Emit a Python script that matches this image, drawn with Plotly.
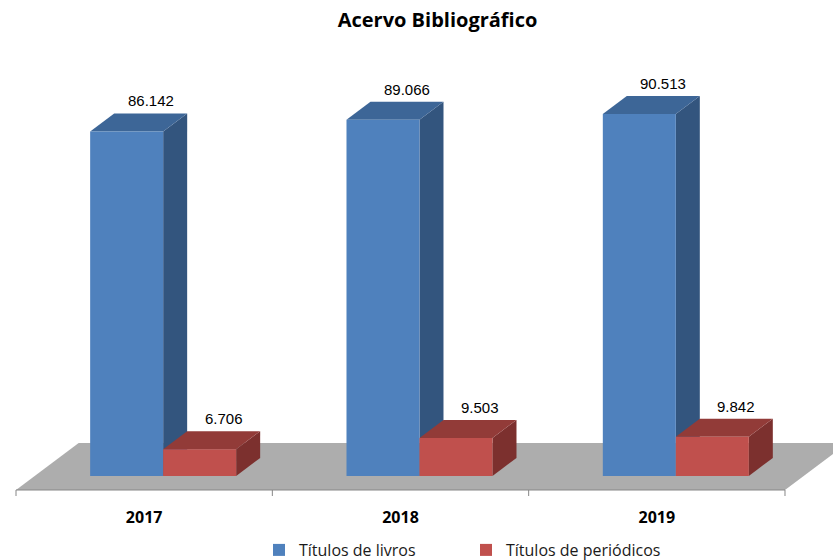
import plotly.graph_objects as go

# ---------------- data ----------------
categories = ["2017", "2018", "2019"]
livros = [86142, 89066, 90513]
periodicos = [6706, 9503, 9842]
series_names = ["Títulos de livros", "Títulos de periódicos"]
title_text = "Acervo Bibliográfico"

# ---------------- styling / geometry ----------------
W, H = 833, 560
MT, MB = 40, 60
PLOT_H = H - MT - MB
X0, X1 = -0.5624, 2.6873
Y0, Y1 = -6000, 109000
UX = (X1 - X0) / W          # x units per pixel
UY = (Y1 - Y0) / PLOT_H     # y units per pixel

BAR_W = 73 * UX
BLUE_OFF = -54 * UX
RED_OFF = BLUE_OFF + BAR_W
DX, DY = 24 * UX, 18 * UY   # depth offset of the 3D boxes

BLUE = dict(front="#4F81BD", top="#3D6697", side="#33557E")
RED = dict(front="#C0504D", top="#923B38", side="#7C302E")
FLOOR = "#ADADAD"
AXIS = "#868686"

FONT_NUM = "Liberation Sans, Arial, sans-serif"
FONT_TXT = "Open Sans, sans-serif"


def fmt(v):
    return f"{v:,}".replace(",", ".")


def poly(pts, color):
    d = "M " + " L ".join(f"{x},{y}" for x, y in pts) + " Z"
    return dict(type="path", path=d, xref="x", yref="y", fillcolor=color,
                line=dict(width=0), layer="below")


shapes = []
# floor
floor_y = -14 * UY
fdx, fdy = 47 * 4 / 3 * UX, 47 * UY
xa, xb = -0.5, len(categories) - 0.5
shapes.append(poly([(xa, floor_y), (xb, floor_y), (xb + fdx, floor_y + fdy),
                    (xa + fdx, floor_y + fdy)], FLOOR))


def box_faces(xc, off, v, pal):
    xl = xc + off
    xr = xl + BAR_W
    side = poly([(xr, 0), (xr + DX, DY), (xr + DX, v + DY), (xr, v)], pal["side"])
    top = poly([(xl, v), (xl + DX, v + DY), (xr + DX, v + DY), (xr, v)], pal["top"])
    return [side, top]


annotations = []
for i in range(len(categories)):
    shapes += box_faces(i, BLUE_OFF, livros[i], BLUE)
    shapes += box_faces(i, RED_OFF, periodicos[i], RED)
    for off, v in ((BLUE_OFF, livros[i]), (RED_OFF, periodicos[i])):
        annotations.append(dict(x=i + off + DX + BAR_W / 2, y=v + DY, text=fmt(v),
                                showarrow=False, yanchor="bottom", yshift=2,
                                font=dict(family=FONT_NUM, size=15, color="#000000")))

# axis line and ticks along the floor's front edge
shapes.append(dict(type="line", xref="x", yref="y", x0=xa, x1=xb, y0=floor_y, y1=floor_y,
                   line=dict(color=AXIS, width=1), layer="below"))
for k in range(len(categories) + 1):
    shapes.append(dict(type="line", xref="x", yref="y", x0=xa + k, x1=xa + k,
                       y0=floor_y, y1=floor_y - 6 * UY,
                       line=dict(color=AXIS, width=1), layer="below"))

xs = list(range(len(categories)))
fig = go.Figure()
fig.add_trace(go.Bar(x=xs, y=livros, width=BAR_W, offset=BLUE_OFF, name=series_names[0],
                     marker=dict(color=BLUE["front"], line=dict(width=0))))
fig.add_trace(go.Bar(x=xs, y=periodicos, width=BAR_W, offset=RED_OFF, name=series_names[1],
                     marker=dict(color=RED["front"], line=dict(width=0))))

fig.update_layout(
    width=W, height=H,
    margin=dict(l=0, r=0, t=MT, b=MB, autoexpand=False),
    paper_bgcolor="white", plot_bgcolor="rgba(0,0,0,0)",
    barmode="overlay",
    title=dict(text=title_text, x=437.5 / W, xanchor="center", y=1 - 20 / H, yanchor="middle",
               font=dict(family=FONT_TXT, size=20, color="#000000", weight="bold")),
    xaxis=dict(range=[X0, X1], tickvals=xs, ticktext=categories, showgrid=False,
               zeroline=False, showline=False, ticks="", fixedrange=True, automargin=False,
               ticklabelstandoff=6,
               tickfont=dict(family=FONT_TXT, size=16, color="#000000", weight="bold")),
    yaxis=dict(range=[Y0, Y1], visible=False, fixedrange=True, automargin=False),
    shapes=shapes,
    annotations=annotations,
    showlegend=True,
    legend=dict(orientation="h", x=259 / W, xanchor="left", y=-50 / PLOT_H, yanchor="middle",
                font=dict(family=FONT_TXT, size=16, color="#1a1a1a"), entrywidth=162,
                bgcolor="rgba(0,0,0,0)"),
)

fig.write_html("out.html", config={"displayModeBar": False},
               post_script="document.body.style.margin='0';")
